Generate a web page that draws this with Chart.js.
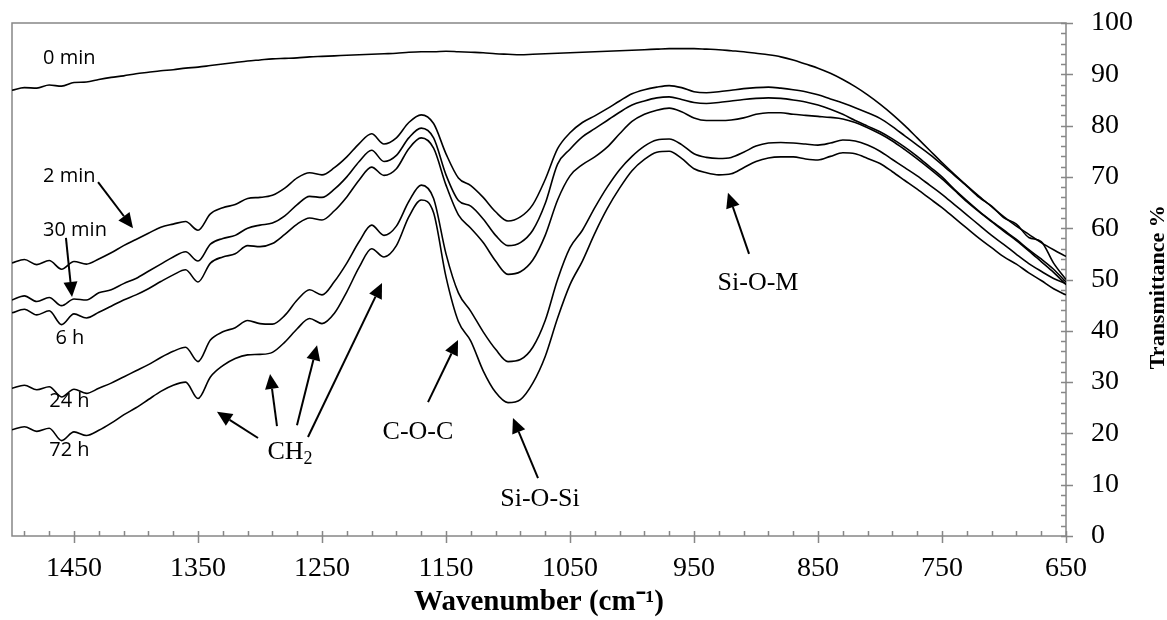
<!DOCTYPE html>
<html>
<head>
<meta charset="utf-8">
<title>FTIR Transmittance</title>
<script src="https://cdn.jsdelivr.net/npm/chart.js@4.4.1/dist/chart.umd.min.js"></script>
<style>
  body { margin: 0; background: #fff; }
</style>
</head>
<body>
<canvas id="chart" width="1167" height="620"></canvas>
<script>
// wavenumber (cm-1) sampled every 10 from 1500 down to 650
const wavenumbers = [1500, 1490, 1480, 1470, 1460, 1450, 1440, 1430, 1420, 1410,
  1400, 1390, 1380, 1370, 1360, 1350, 1340, 1330, 1320, 1310,
  1300, 1290, 1280, 1270, 1260, 1250, 1240, 1230, 1220, 1210,
  1200, 1190, 1180, 1170, 1160, 1150, 1140, 1130, 1120, 1110,
  1100, 1090, 1080, 1070, 1060, 1050, 1040, 1030, 1020, 1010,
  1000, 990, 980, 970, 960, 950, 940, 930, 920, 910,
  900, 890, 880, 870, 860, 850, 840, 830, 820, 810,
  800, 790, 780, 770, 760, 750, 740, 730, 720, 710,
  700, 690, 680, 670, 660, 650];

// transmittance % for each sampling time
const t0min = [86.9, 87.4, 87.3, 87.9, 87.7, 88.4, 88.5, 89.0, 89.4, 89.7,
  90.1, 90.4, 90.7, 90.9, 91.2, 91.4, 91.7, 92.0, 92.3, 92.6,
  92.8, 93.0, 93.1, 93.2, 93.4, 93.5, 93.6, 93.7, 93.8, 93.9,
  94.0, 94.1, 94.3, 94.4, 94.4, 94.5, 94.4, 94.3, 94.2, 94.0,
  93.9, 93.8, 93.9, 94.0, 94.1, 94.2, 94.3, 94.4, 94.5, 94.6,
  94.7, 94.8, 94.9, 95.0, 95.0, 95.0, 94.9, 94.8, 94.6, 94.4,
  94.1, 93.8, 93.4, 92.8, 92.0, 91.2, 90.2, 89.0, 87.6, 86.0,
  84.2, 82.2, 80.0, 77.6, 75.2, 72.8, 70.5, 68.3, 66.2, 64.2,
  62.2, 60.4, 58.8, 57.2, 55.8, 54.5];

const t2min = [53.2, 53.9, 52.9, 53.7, 52.0, 53.5, 53.0, 54.0, 55.2, 56.6,
  57.8, 59.0, 60.2, 60.8, 61.3, 59.6, 62.8, 64.0, 64.6, 65.8,
  66.0, 66.4, 67.8, 69.8, 70.8, 70.4, 71.8, 73.9, 76.5, 78.4,
  76.4, 77.6, 80.6, 82.1, 80.4, 74.5, 69.8, 68.3, 66.0, 63.2,
  61.4, 62.2, 64.6, 69.5, 75.5, 78.6, 80.6, 81.9, 83.3, 84.8,
  86.2, 87.0, 87.5, 87.8, 87.4, 86.6, 86.4, 86.6, 86.9, 87.2,
  87.4, 87.5, 87.3, 87.0, 86.6, 86.0, 85.2, 84.4, 83.5, 82.5,
  81.4, 79.8, 78.0, 76.2, 74.4, 72.4, 70.3, 68.2, 66.0, 64.3,
  62.0, 60.8, 58.2, 57.4, 53.2, 50.0];

const t30min = [46.0, 46.8, 45.7, 46.5, 44.9, 46.2, 46.0, 47.4, 48.0, 49.2,
  50.2, 51.6, 53.0, 54.4, 55.4, 53.6, 56.9, 58.0, 58.6, 60.0,
  60.6, 61.0, 62.4, 64.6, 66.2, 66.0, 67.6, 70.0, 73.0, 75.2,
  73.0, 74.2, 77.6, 79.5, 77.6, 70.4, 65.4, 64.3, 61.8, 58.6,
  56.6, 57.2, 59.6, 64.8, 72.5, 75.4, 77.8, 79.4, 81.0, 82.6,
  84.0, 84.8, 85.4, 85.6, 85.1, 84.5, 84.3, 84.5, 84.8, 85.1,
  85.3, 85.4, 85.3, 85.0, 84.6, 84.0, 83.2, 82.2, 81.0, 79.9,
  78.8, 77.4, 75.8, 74.0, 72.0, 70.0, 67.6, 65.4, 63.3, 61.4,
  59.6, 57.8, 55.8, 54.0, 52.0, 49.5];

const t6h = [43.5, 44.2, 43.1, 43.9, 41.2, 43.3, 42.5, 43.6, 44.8, 46.0,
  47.0, 48.2, 49.6, 50.9, 51.9, 49.5, 53.2, 54.4, 55.0, 56.6,
  56.4, 57.0, 58.8, 60.8, 62.0, 61.6, 63.4, 66.1, 69.4, 71.9,
  70.3, 71.6, 75.5, 77.6, 75.6, 68.4, 62.6, 60.0, 57.2, 53.6,
  51.0, 51.5, 53.8, 58.6, 65.5, 70.2, 72.4, 73.9, 75.8, 78.4,
  80.8, 82.2, 83.0, 83.4, 82.7, 81.5, 81.0, 81.0, 81.1, 81.5,
  82.2, 82.5, 82.5, 82.2, 82.0, 81.8, 81.6, 81.3, 80.6, 79.6,
  78.4, 77.0, 75.3, 73.5, 71.6, 69.6, 67.4, 65.2, 63.2, 61.3,
  59.4, 57.6, 55.6, 53.5, 51.4, 49.0];

const t24h = [28.8, 29.4, 28.5, 29.1, 27.1, 28.6, 27.8, 28.8, 29.8, 31.0,
  32.2, 33.4, 34.8, 36.0, 36.8, 34.0, 38.2, 39.8, 40.6, 42.0,
  41.4, 41.3, 43.0, 46.0, 48.0, 47.0, 49.6, 53.2, 57.4, 60.6,
  58.6, 60.4, 65.2, 68.4, 65.8, 55.0, 47.4, 43.8, 39.8, 36.4,
  34.0, 34.4, 36.8, 42.0, 50.0, 56.2, 59.6, 64.0, 68.0, 71.4,
  74.0, 76.0, 77.2, 77.4, 76.3, 74.5, 73.8, 73.6, 73.8, 74.8,
  76.0, 76.6, 76.7, 76.6, 76.4, 76.2, 76.6, 77.2, 77.0, 76.2,
  75.0, 73.4, 71.8, 70.2, 68.4, 66.6, 64.6, 62.6, 60.6, 58.6,
  56.8, 54.9, 53.1, 51.6, 50.2, 49.2];

const t72h = [20.7, 21.3, 20.4, 21.0, 18.6, 20.3, 19.6, 20.6, 22.0, 23.6,
  25.0, 26.6, 28.2, 29.4, 30.0, 26.8, 31.0, 33.2, 34.6, 35.3,
  35.4, 35.8, 37.8, 40.4, 42.4, 41.4, 43.4, 47.6, 52.4, 56.0,
  54.4, 56.6, 62.2, 65.5, 63.0, 50.5, 41.8, 38.0, 32.2, 28.0,
  26.0, 26.6, 29.8, 35.0, 42.5, 49.0, 53.6, 59.0, 63.8, 67.8,
  71.2, 73.4, 74.8, 75.0, 73.6, 71.6, 70.8, 70.4, 70.6, 71.8,
  73.0, 73.7, 73.9, 73.9, 73.5, 73.3, 74.0, 74.7, 74.5, 73.6,
  72.6, 71.0, 69.3, 67.6, 65.8, 64.0, 62.0, 60.0, 58.0, 56.2,
  54.4, 53.0, 51.3, 49.8, 48.2, 47.0];

const seriesNames = ['0 min', '2 min', '30 min', '6 h', '24 h', '72 h'];
const seriesValues = [t0min, t2min, t30min, t6h, t24h, t72h];

const xTickLabels = [650, 750, 850, 950, 1050, 1150, 1250, 1350, 1450];
const yTickLabels = [0, 10, 20, 30, 40, 50, 60, 70, 80, 90, 100];

// annotation placement, in axis units (wavenumber, transmittance)
const nameSpots = [[1475, 93.2], [1475, 70.2], [1475, 59.6], [1465, 38.6], [1470, 26.3], [1470, 16.8]];
const arrows = [
  [1430.6, 69.0, 1402.4, 60.0],
  [1456.5, 58.1, 1451.6, 46.6],
  [1301.6, 19.1, 1334.7, 24.2],
  [1286.3, 21.4, 1291.9, 31.6],
  [1270.2, 21.6, 1254.0, 37.2],
  [1261.3, 19.3, 1201.6, 49.3],
  [1164.5, 26.1, 1140.3, 38.2],
  [1075.8, 11.3, 1096.0, 23.0],
  [905.6, 55.0, 922.6, 66.9]
];
const bands = [
  ['CH', '2', 1275.8, 16.4],
  ['C-O-C', '', 1172.6, 20.3],
  ['Si-O-Si', '', 1074.2, 7.2],
  ['Si-O-M', '', 898.4, 49.3]
];

function drawArrow(ctx, x1, y1, x2, y2) {
  const a = Math.atan2(y2 - y1, x2 - x1);
  const head = 15, half = 7;
  const bx = x2 - head * Math.cos(a), by = y2 - head * Math.sin(a);
  ctx.beginPath();
  ctx.moveTo(x1, y1);
  ctx.lineTo(bx, by);
  ctx.stroke();
  ctx.beginPath();
  ctx.moveTo(x2, y2);
  ctx.lineTo(bx + half * Math.sin(a), by - half * Math.cos(a));
  ctx.lineTo(bx - half * Math.sin(a), by + half * Math.cos(a));
  ctx.closePath();
  ctx.fill();
}

const frame = {
  id: 'frame',
  beforeDatasetsDraw(chart) {
    const { ctx, chartArea: a, scales: { x, y } } = chart;
    ctx.save();
    ctx.strokeStyle = '#878787';
    ctx.lineWidth = 1.5;
    ctx.strokeRect(a.left, a.top, a.right - a.left, a.bottom - a.top);
    ctx.beginPath();
    for (let v = 670; v < 1500; v += 20) {
      const px = Math.round(x.getPixelForValue(v)) + 0.5;
      ctx.moveTo(px, a.bottom - 5);
      ctx.lineTo(px, a.bottom);
    }
    xTickLabels.forEach(v => {
      const px = Math.round(x.getPixelForValue(v)) + 0.5;
      ctx.moveTo(px, a.bottom - 5);
      ctx.lineTo(px, a.bottom + 7);
    });
    for (let v = 2; v < 100; v += 2) {
      const py = Math.round(y.getPixelForValue(v)) + 0.5;
      ctx.moveTo(a.right - 5, py);
      ctx.lineTo(a.right, py);
    }
    yTickLabels.forEach(v => {
      const py = Math.round(y.getPixelForValue(v)) + 0.5;
      ctx.moveTo(a.right - 5, py);
      ctx.lineTo(a.right + 7, py);
    });
    ctx.stroke();
    ctx.restore();
  },
  afterDatasetsDraw(chart) {
    const { ctx, chartArea: a, scales: { x, y } } = chart;
    ctx.save();
    ctx.fillStyle = '#000';
    ctx.strokeStyle = '#000';
    ctx.lineWidth = 2;

    ctx.font = '20px "Open Sans"';
    ctx.textAlign = 'left';
    ctx.textBaseline = 'middle';
    seriesNames.forEach((n, i) => {
      ctx.fillText(n, x.getPixelForValue(nameSpots[i][0]), y.getPixelForValue(nameSpots[i][1]));
    });

    arrows.forEach(r => drawArrow(ctx,
      x.getPixelForValue(r[0]), y.getPixelForValue(r[1]),
      x.getPixelForValue(r[2]), y.getPixelForValue(r[3])));

    bands.forEach(b => {
      const cx = x.getPixelForValue(b[2]), cy = y.getPixelForValue(b[3]);
      ctx.font = '26px "Liberation Serif"';
      const w1 = ctx.measureText(b[0]).width;
      ctx.font = '18px "Liberation Serif"';
      const w2 = b[1] ? ctx.measureText(b[1]).width : 0;
      const left = cx - (w1 + w2) / 2;
      ctx.textAlign = 'left';
      ctx.font = '26px "Liberation Serif"';
      ctx.fillText(b[0], left, cy);
      if (b[1]) {
        ctx.font = '18px "Liberation Serif"';
        ctx.fillText(b[1], left + w1, cy + 7);
      }
    });

    // y axis title, reading bottom to top
    ctx.font = 'bold 22px "Liberation Serif"';
    ctx.textAlign = 'center';
    ctx.translate(a.right + 92, y.getPixelForValue(48.5));
    ctx.rotate(-Math.PI / 2);
    ctx.fillText('Transmittance %', 0, 0);
    ctx.restore();
  }
};

const ctx = document.getElementById('chart').getContext('2d');
new Chart(ctx, {
  type: 'line',
  data: {
    datasets: seriesValues.map((vals, i) => ({
      label: seriesNames[i],
      data: vals.map((v, j) => ({ x: wavenumbers[j], y: v })),
      borderColor: '#000',
      borderWidth: 1.6,
      pointRadius: 0,
      fill: false,
      cubicInterpolationMode: 'monotone'
    }))
  },
  options: {
    responsive: false,
    animation: false,
    layout: { padding: { left: 12, top: 23, right: 0, bottom: 0 } },
    plugins: { legend: { display: false }, tooltip: { enabled: false } },
    scales: {
      x: {
        type: 'linear',
        reverse: true,
        min: 650,
        max: 1500,
        afterBuildTicks: s => { s.ticks = xTickLabels.map(v => ({ value: v })); },
        afterFit: s => { s.height = 84; s.paddingLeft = 0; s.paddingRight = 0; },
        grid: { display: false, drawTicks: false },
        border: { display: false },
        ticks: {
          color: '#000',
          font: { family: 'Liberation Serif', size: 28 },
          padding: 16,
          maxRotation: 0,
          autoSkip: false,
          callback: v => String(v)
        },
        title: {
          display: true,
          text: 'Wavenumber (cm\u207B\u00B9)',
          color: '#000',
          font: { family: 'Liberation Serif', size: 29, weight: 'bold' },
          padding: { top: 0, bottom: 0 }
        }
      },
      y: {
        position: 'right',
        min: 0,
        max: 100,
        afterBuildTicks: s => { s.ticks = yTickLabels.map(v => ({ value: v })); },
        afterFit: s => { s.width = 101; s.paddingTop = 0; s.paddingBottom = 0; },
        grid: { display: false, drawTicks: false },
        border: { display: false },
        ticks: {
          color: '#000',
          font: { family: 'Liberation Serif', size: 28 },
          padding: 25,
          callback: v => String(v)
        }
      }
    }
  },
  plugins: [frame]
});
</script>
</body>
</html>
